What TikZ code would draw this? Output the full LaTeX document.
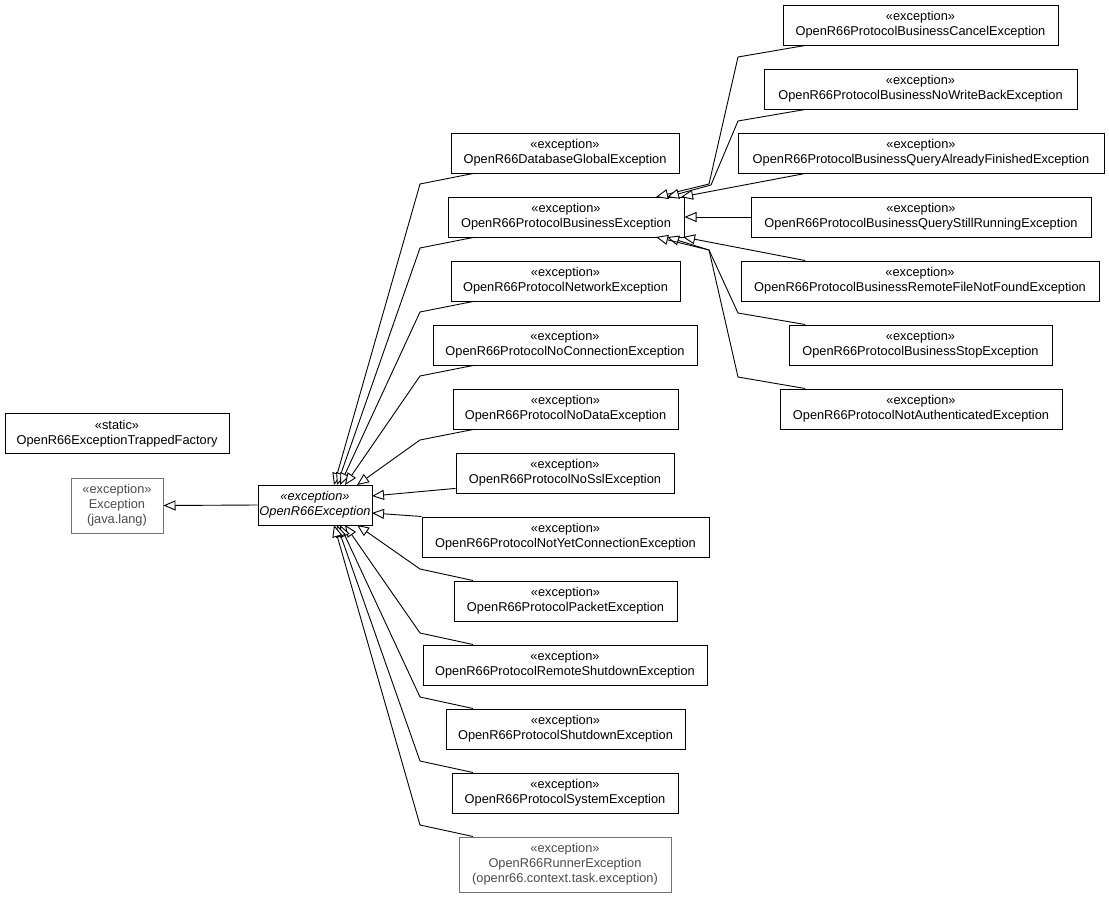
\documentclass[tikz,border=0pt]{standalone}
\usepackage{fontspec}
\setmainfont{Liberation Sans}
\usetikzlibrary{arrows.meta}
\begin{document}
\begin{tikzpicture}[x=1pt,y=-1pt,
  cls/.style={draw=black,line width=1pt,fill=white,inner sep=0pt,align=center,
    font=\fontsize{12.8}{15}\selectfont,minimum height=40pt},
  ext/.style={cls,draw=black!55,text=black!70,minimum height=55pt},
  gen/.style={line width=0.9pt,-{Triangle[fill=white,length=12pt,width=10pt]}}]
\useasboundingbox (0,0) rectangle (1109,897);
% left
\node[cls,minimum width=224pt] (fac) at (117,433.5) {«static»\\OpenR66ExceptionTrappedFactory};
\node[ext,minimum width=92pt] (exc) at (117,505.5) {«exception»\\Exception\\(java.lang)};
\node[cls,minimum width=114pt,font=\fontsize{12.8}{15}\selectfont\itshape] (p) at (315,505) {«exception»\\OpenR66Exception};
% middle column
\node[cls,minimum width=228pt] (db) at (565,153) {«exception»\\OpenR66DatabaseGlobalException};
\node[cls,minimum width=236pt] (bus) at (566,217) {«exception»\\OpenR66ProtocolBusinessException};
\node[cls,minimum width=229pt] (net) at (565.5,281) {«exception»\\OpenR66ProtocolNetworkException};
\node[cls,minimum width=264pt] (noconn) at (565,345) {«exception»\\OpenR66ProtocolNoConnectionException};
\node[cls,minimum width=225pt] (nodata) at (565.5,409) {«exception»\\OpenR66ProtocolNoDataException};
\node[cls,minimum width=218pt] (nossl) at (565,473) {«exception»\\OpenR66ProtocolNoSslException};
\node[cls,minimum width=287pt] (notyet) at (565.5,537) {«exception»\\OpenR66ProtocolNotYetConnectionException};
\node[cls,minimum width=223pt] (packet) at (565.5,601) {«exception»\\OpenR66ProtocolPacketException};
\node[cls,minimum width=284pt] (remote) at (565,665) {«exception»\\OpenR66ProtocolRemoteShutdownException};
\node[cls,minimum width=239pt] (shut) at (565.5,729) {«exception»\\OpenR66ProtocolShutdownException};
\node[cls,minimum width=226pt] (sys) at (565,793) {«exception»\\OpenR66ProtocolSystemException};
\node[ext,minimum width=212pt] (run) at (565,864.5) {«exception»\\OpenR66RunnerException\\(openr66.context.task.exception)};
% right column
\node[cls,minimum width=275pt] (cancel) at (920.5,25) {«exception»\\OpenR66ProtocolBusinessCancelException};
\node[cls,minimum width=313pt] (nowb) at (920.5,89) {«exception»\\OpenR66ProtocolBusinessNoWriteBackException};
\node[cls,minimum width=366pt] (qaf) at (921,153) {«exception»\\OpenR66ProtocolBusinessQueryAlreadyFinishedException};
\node[cls,minimum width=340pt] (qsr) at (921,217) {«exception»\\OpenR66ProtocolBusinessQueryStillRunningException};
\node[cls,minimum width=358pt] (rfnf) at (920,281) {«exception»\\OpenR66ProtocolBusinessRemoteFileNotFoundException};
\node[cls,minimum width=263pt] (stop) at (920.5,345) {«exception»\\OpenR66ProtocolBusinessStopException};
\node[cls,minimum width=282pt] (nauth) at (921,409) {«exception»\\OpenR66ProtocolNotAuthenticatedException};
% helper coordinates
\coordinate (jx) at (473,0);
\coordinate (jr) at (805,0);
\coordinate (t1) at (334,485);
\coordinate (t2) at (337,485);
\coordinate (t3) at (340,485);
\coordinate (t4) at (345,485);
\coordinate (t5) at (357,485);
\coordinate (b1) at (357,525);
\coordinate (b2) at (345,525);
\coordinate (b3) at (340,525);
\coordinate (b4) at (337,525);
\coordinate (b5) at (334,525);
\coordinate (r1) at (656,197);
\coordinate (r2) at (667,197);
\coordinate (r3) at (681,197);
\coordinate (s1) at (683,237);
\coordinate (s2) at (667,237);
\coordinate (s3) at (656,237);
% edges to OpenR66Exception
\draw[gen] (p.west) -- (exc.east);
\draw[gen] (db.south -| jx) -- (420,184) -- (t1);
\draw[gen] (bus.south -| jx) -- (420,248) -- (t2);
\draw[gen] (net.south -| jx) -- (420,312) -- (t3);
\draw[gen] (noconn.south -| jx) -- (420,376) -- (t4);
\draw[gen] (nodata.south -| jx) -- (420,440) -- (t5);
\draw[gen] (nossl.188) -- (372,496);
\draw[gen] (notyet.north west) -- (372,513);
\draw[gen] (packet.north -| jx) -- (420,569) -- (b1);
\draw[gen] (remote.north -| jx) -- (420,633) -- (b2);
\draw[gen] (shut.north -| jx) -- (420,697) -- (b3);
\draw[gen] (sys.north -| jx) -- (420,761) -- (b4);
\draw[gen] (run.north -| jx) -- (420,825) -- (b5);
% edges to OpenR66ProtocolBusinessException
\draw[gen] (cancel.south -| jr) -- (738,57) -- (709,184) -- (r1);
\draw[gen] (nowb.south -| jr) -- (738,121) -- (711,185) -- (r2);
\draw[gen] (qaf.south -| jr) -- (r3);
\draw[gen] (qsr.west) -- (bus.east);
\draw[gen] (rfnf.north -| jr) -- (s1);
\draw[gen] (stop.north -| jr) -- (738,313) -- (709,250) -- (s2);
\draw[gen] (nauth.north -| jr) -- (738,377) -- (709,250) -- (s3);
\end{tikzpicture}
\end{document}
